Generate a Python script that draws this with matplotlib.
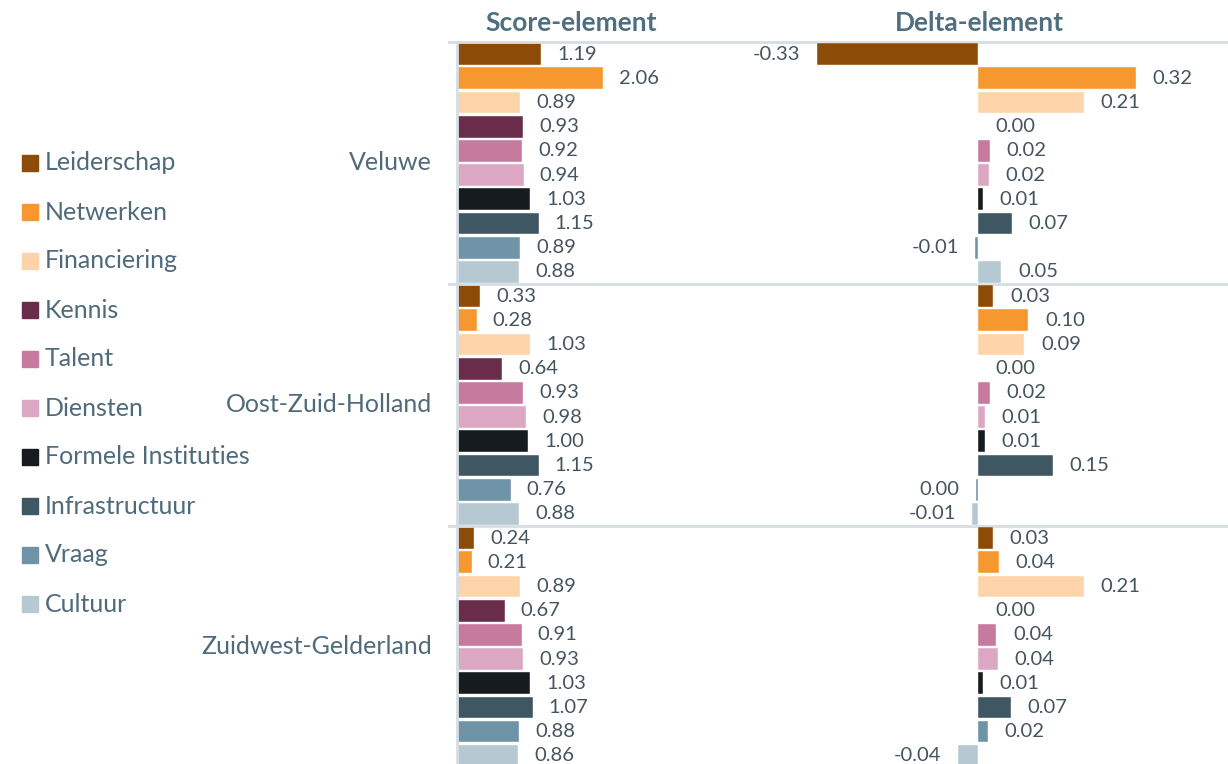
import numpy as np
import matplotlib
matplotlib.use('Agg')
import matplotlib.pyplot as plt
from matplotlib.patches import Rectangle
from matplotlib.transforms import blended_transform_factory

plt.rcParams['font.family'] = ['Lato', 'DejaVu Sans']

elements = ['Leiderschap', 'Netwerken', 'Financiering', 'Kennis', 'Talent',
            'Diensten', 'Formele Instituties', 'Infrastructuur', 'Vraag', 'Cultuur']
colors = ['#8c4b07', '#f7972f', '#fdd4aa', '#692d4b', '#c57a9e',
          '#dba7c3', '#151b1e', '#3f5763', '#6f94a7', '#b6c8d2']
regions = ['Veluwe', 'Oost-Zuid-Holland', 'Zuidwest-Gelderland']

score_veluwe = [1.19, 2.06, 0.89, 0.93, 0.92, 0.94, 1.03, 1.15, 0.89, 0.88]
score_ozh = [0.33, 0.28, 1.03, 0.64, 0.93, 0.98, 1.00, 1.15, 0.76, 0.88]
score_zwg = [0.24, 0.21, 0.89, 0.67, 0.91, 0.93, 1.03, 1.07, 0.88, 0.86]

delta_veluwe = [-0.329, 0.321, 0.215, 0.0, 0.024, 0.021, 0.009, 0.068, -0.006, 0.047]
delta_ozh = [0.031, 0.102, 0.094, 0.0, 0.024, 0.014, 0.014, 0.152, -0.004, -0.012]
delta_zwg = [0.029, 0.042, 0.215, 0.0, 0.037, 0.040, 0.009, 0.067, 0.020, -0.041]

scores = [score_veluwe, score_ozh, score_zwg]
deltas = [delta_veluwe, delta_ozh, delta_zwg]

label_col = '#4f6b7b'
value_col = '#44555f'
line_col = '#d5dee4'

W, H = 1228, 764
fig = plt.figure(figsize=(W / 100, H / 100), dpi=100)

top = (H - 42) / H
ax_s = fig.add_axes([457 / W, 0, (700 - 457) / W, top])
ax_d = fig.add_axes([730 / W, 0, (W - 730) / W, top])

n = len(elements)
ypos = np.arange(n * len(regions))
vals_s = np.concatenate(scores)
vals_d = np.concatenate(deltas)
cols = colors * len(regions)

ax_s.barh(ypos, vals_s, height=0.9, color=cols, edgecolor='white', linewidth=0.3)
ax_d.barh(ypos, vals_d, height=0.9, color=cols, edgecolor='white', linewidth=0.3)

ax_s.set_xlim(0, (700 - 457) / 70.9)
ax_d.set_xlim(-(978.3 - 730) / 490, (W - 978.3) / 490)
for ax in (ax_s, ax_d):
    ax.set_ylim((H - 54) / 24.2, -0.5)
    ax.axis('off')

fs_val = 14.5
for y, v in zip(ypos, vals_s):
    ax_s.annotate(f'{v:.2f}', (v, y), xytext=(11.5, 0), textcoords='offset points',
                  ha='left', va='center', fontsize=fs_val, color=value_col)
for y, v in zip(ypos, vals_d):
    txt = f'{abs(v):.2f}' if round(v, 2) == 0 else f'{v:.2f}'
    if v >= 0:
        ax_d.annotate(txt, (v, y), xytext=(12, 0), textcoords='offset points',
                      ha='left', va='center', fontsize=fs_val, color=value_col)
    else:
        ax_d.annotate(txt, (v, y), xytext=(-12, 0), textcoords='offset points',
                      ha='right', va='center', fontsize=fs_val, color=value_col)

# separators and vertical axis line
trans = blended_transform_factory(fig.transFigure, ax_s.transData)
for b in [-0.5, 9.5, 19.5]:
    ax_s.plot([449 / W, 1.0], [b, b], transform=trans, color=line_col, lw=2, clip_on=False)
ax_s.plot([0, 0], [-0.5, (H - 54) / 24.2], color=line_col, lw=2, clip_on=False)

# region labels
for i, r in enumerate(regions):
    ax_s.text(-25 / 70.9, i * n + 4.5, r, ha='right', va='center',
              fontsize=18, color=label_col)

# titles
fig.text(571 / W, 1 - 23 / H, 'Score-element', ha='center', va='center',
         fontsize=19, fontweight='bold', color='#4f6f80')
fig.text(979 / W, 1 - 23 / H, 'Delta-element', ha='center', va='center',
         fontsize=19, fontweight='bold', color='#4f6f80')

# legend
for i, (e, c) in enumerate(zip(elements, colors)):
    yc = 163 + 49 * i
    fig.patches.append(Rectangle((22 / W, 1 - (yc + 8) / H), 16 / W, 16 / H,
                                 transform=fig.transFigure, color=c))
    fig.text(45 / W, 1 - yc / H, e, ha='left', va='center', fontsize=18, color=label_col)

fig.savefig('out.png', dpi=100)
